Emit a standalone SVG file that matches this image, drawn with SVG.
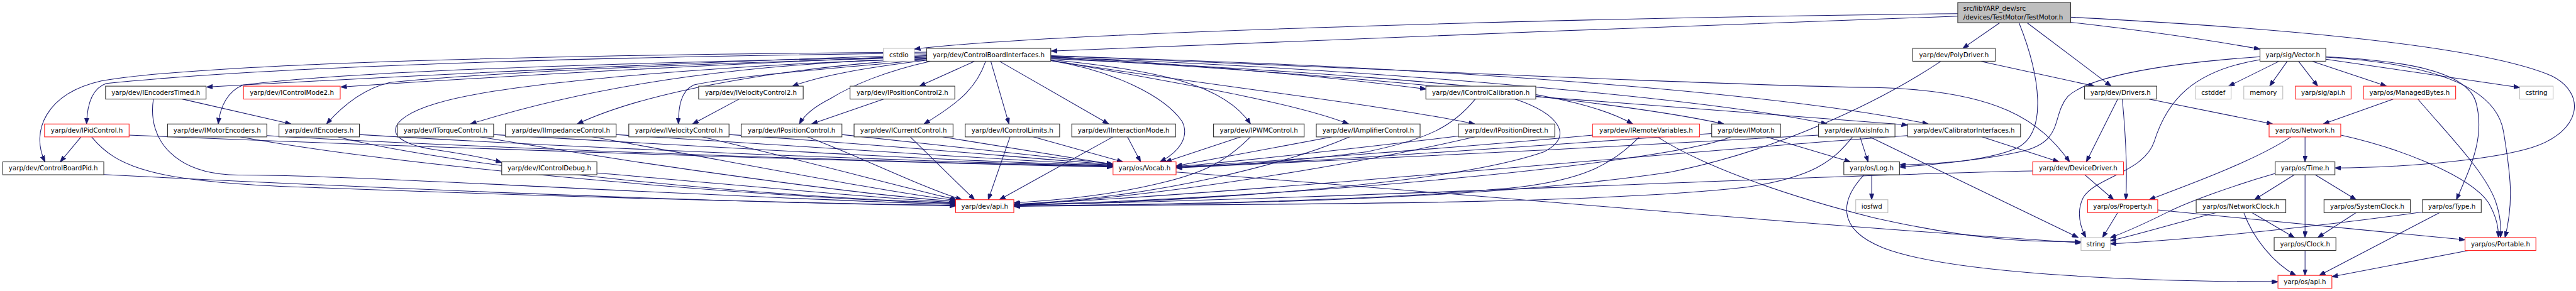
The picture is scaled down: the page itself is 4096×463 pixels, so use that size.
<svg xmlns="http://www.w3.org/2000/svg" width="4096" height="463" viewBox="0 0 4096 463">
<style>
.e path{fill:none;stroke:#191970;stroke-width:1.3;marker-end:url(#a)}
.n rect{fill:#fff;stroke:#333;stroke-width:1.4}
.n.r rect{stroke:#f22}
.n.g rect{stroke:#bfbfbf}
.n text{font-family:"DejaVu Sans",sans-serif;font-size:12.8px;fill:#000;text-anchor:middle}
</style>
<defs>
<marker id="a" viewBox="0 0 12 9" refX="12" refY="4.5" markerWidth="12" markerHeight="9" orient="auto" markerUnits="userSpaceOnUse"><path d="M0,0 L12,4.5 L0,9 z" fill="#191970" stroke="#191970" stroke-width="1"/></marker>
</defs>
<rect width="4096" height="463" fill="#fff"/>
<g transform="scale(0.805)">
<g id="connectors" class="e">
<path d="M3867,27 C3200,34 2100,62 1806,97"/>
<path d="M3867,32 C3300,50 2600,82 2076,101"/>
<path d="M3950,45 L3877,95.5"/>
<path d="M3988,45 C4030,150 4045,262 3985,292 C3930,318 3810,326 3752,330"/>
<path d="M4004,45 L4170,170.3"/>
<path d="M4090,44 C4250,62 4380,82 4464,97"/>
<path d="M4090,34 C4500,55 4900,90 5040,150 C5110,185 5100,260 5000,292 C4900,322 4700,332 4612,332"/>
<path d="M3912,121 L4137,170.3"/>
<path d="M3834,121 C3700,210 3500,300 3300,340 C2900,400 2300,405 2002,407"/>
<path d="M4183,196 L4121,319.9"/>
<path d="M4192,196 C4200,280 4202,340 4199,394.7"/>
<path d="M4245,196 L4489,245.1"/>
<path d="M4502,121 L4402,170.3"/>
<path d="M4518,121 L4483,170.3"/>
<path d="M4540,121 L4578,170.3"/>
<path d="M4567,121 L4714,170.3"/>
<path d="M4594,117 L4977,173"/>
<path d="M4594,112 C4750,120 4870,140 4890,200 C4910,270 4880,330 4852,394.7"/>
<path d="M4594,113 C4800,125 4930,170 4945,260 C4960,350 4965,400 4948,469.5"/>
<path d="M4464,112 C4350,120 4140,140 4085,190 C4050,230 4080,280 3990,300 C3900,320 3800,325 3752,326"/>
<path d="M4464,118 C4330,140 4280,200 4255,280 C4235,340 4140,350 4115,390 C4100,420 4110,450 4120,469.5"/>
<path d="M4727,196 L4589,245.1"/>
<path d="M4776,196 C4830,260 4910,340 4930,400 C4940,430 4940,450 4939,469.5"/>
<path d="M4553,270.6 L4553,319.9"/>
<path d="M4624,267 C4750,295 4880,350 4915,400 C4932,430 4935,450 4935,469.5"/>
<path d="M4525,270.6 C4450,320 4310,370 4245,394.7"/>
<path d="M4532,345.4 L4453,394.7"/>
<path d="M4553,345.4 L4553,469.5"/>
<path d="M4573,345.4 L4654,394.7"/>
<path d="M4494,343 C4400,370 4320,400 4280,420 C4230,445 4200,458 4168,470"/>
<path d="M4448,420.2 L4532,469.5"/>
<path d="M4432,420.2 C4450,470 4490,520 4535,544.3"/>
<path d="M4378,420.2 C4300,440 4230,462 4168,476"/>
<path d="M4654,420.2 L4578,469.5"/>
<path d="M4819,420.2 L4581,544.3"/>
<path d="M4785,419 C4600,445 4350,472 4168,482"/>
<path d="M4553,495 L4553,544.3"/>
<path d="M4876,495 L4606,547"/>
<path d="M4183,420.2 L4153,469.5"/>
<path d="M4262,415 L4869,474"/>
<path d="M3697,345.4 L3697,394.7"/>
<path d="M3682,345.4 C3640,390 3620,450 3720,490 C3850,540 4200,556 4499.5,557"/>
<path d="M4118,345.4 L4175,394.7"/>
<path d="M4015,338 C3600,345 2600,395 2002.5,405"/>
<path d="M3915,270.6 L4067,319.9"/>
<path d="M3768,268 C3300,300 2500,380 2002.5,404"/>
<path d="M3674,270.6 L3690,319.9"/>
<path d="M3693,270.6 L4105,469.5"/>
<path d="M3659,270.6 C3620,320 3580,350 3450,370 C3100,410 2300,402 2002.5,408"/>
<path d="M3592,267 C3200,290 2600,320 2323,332"/>
<path d="M3489,270.6 L3655,319.9"/>
<path d="M3419,270.6 C3300,320 2600,390 2002.5,405"/>
<path d="M3381,264 C3000,290 2600,320 2323,330"/>
<path d="M3146,267 C2900,290 2500,320 2323,330"/>
<path d="M3238,270.6 C3180,330 3120,355 3000,370 C2700,400 2200,405 2002.5,407"/>
<path d="M3274,270.6 C3350,320 3500,380 3700,430 C3900,475 4000,478 4110.5,478"/>
<path d="M2323,340 C2800,375 3500,440 4110.5,480"/>
<path d="M2881,269 C2700,290 2450,320 2323,329"/>
<path d="M2913,270.6 C2700,320 2300,390 2002.5,405"/>
<path d="M2631,270.6 C2500,295 2380,318 2323,328"/>
<path d="M2666,270.6 C2550,320 2300,390 2002.5,404"/>
<path d="M2914,195.8 C2870,250 2820,275 2700,300 C2550,320 2400,328 2323,331"/>
<path d="M2992,195.8 C3080,225 3110,270 3050,300 C2850,370 2300,400 2002.5,406"/>
<path d="M3033,191 C3300,210 3600,235 3768,247"/>
<path d="M2451,270.6 L2302,319.9"/>
<path d="M2470,270.6 C2420,320 2380,340 2300,360 C2200,385 2100,395 2002.5,401"/>
<path d="M2227,270.6 L2253,319.9"/>
<path d="M2198,270.6 L1974,394.7"/>
<path d="M2041,270.6 L2218,319.9"/>
<path d="M1995,270.6 L1952,394.7"/>
<path d="M1862,270.6 L2198.5,325"/>
<path d="M1798,270.6 L1925,394.7"/>
<path d="M1925,121 L1816,170.3"/>
<path d="M1947,121 C1930,170 1900,200 1825,245.1"/>
<path d="M1957,121 L1993,245.1"/>
<path d="M1974,121 L2190,245.1"/>
<path d="M2076,120 C2200,140 2300,190 2335,240 C2350,270 2330,300 2291,319.9"/>
<path d="M2076,118 C2300,140 2420,170 2470,245.1"/>
<path d="M2076,119 C2300,160 2550,200 2664,245.1"/>
<path d="M2076,112 C2400,130 2650,155 2817,176"/>
<path d="M2076,120 C2400,170 2750,210 2913,245.1"/>
<path d="M2076,116 C2600,140 2950,170 3050,190 C3130,205 3190,225 3225,245.1"/>
<path d="M2076,114 C2700,150 3200,200 3405,245.1"/>
<path d="M2076,113 C2800,140 3400,200 3609,245.1"/>
<path d="M2076,111 C2800,130 3500,180 3809,245.1"/>
<path d="M2076,110 C2800,140 3400,168 3700,173 C3950,178 4030,240 4088,319.9"/>
<path d="M1831,103 C1100,108 400,125 200,160 C90,185 60,260 89,319.9"/>
<path d="M1831,105 C1200,112 550,130 210,165 C180,175 172,210 171,245.1"/>
<path d="M1831,108 C1300,125 800,150 408,172"/>
<path d="M1831,110 C1400,128 1000,150 673,172"/>
<path d="M1831,112 C1200,125 700,140 480,168 C450,180 435,210 431,245.1"/>
<path d="M1831,113 C1400,125 1000,140 770,163 C720,175 680,205 645,245.1"/>
<path d="M1831,115 C1500,125 1200,160 929,245.1"/>
<path d="M1831,116 C1600,130 1300,170 1140,245.1"/>
<path d="M1831,118 C1650,135 1450,150 1370,168 C1345,180 1340,210 1340,245.1"/>
<path d="M1831,119 C1700,135 1620,150 1565,170.3"/>
<path d="M1838,121 C1750,140 1680,170 1640,195 C1610,210 1590,225 1579,245.1"/>
<path d="M1831,116 C1500,125 1000,160 860,205 C760,235 750,280 860,296 C920,305 960,312 991,321"/>
<path d="M1460,195.8 L1368,245.1"/>
<path d="M1746,195.8 L1603,245.1"/>
<path d="M360,195.8 L575,245.1"/>
<path d="M303,195.8 C290,280 350,345 470,346 C700,345 1400,390 1887.5,404"/>
<path d="M160,270.6 L119,319.9"/>
<path d="M255,267 C800,290 1700,320 2198.5,330"/>
<path d="M181,270.6 C230,330 300,360 600,370 C1000,385 1500,400 1887.5,406"/>
<path d="M205,345 C700,370 1400,400 1887.5,407"/>
<path d="M1179,342 C1400,360 1700,390 1887.5,400"/>
<path d="M527,268 C900,290 1700,320 2198.5,329"/>
<path d="M474,270.6 C800,330 1500,390 1887.5,402"/>
<path d="M710,266 C1100,290 1800,320 2198.5,328"/>
<path d="M667,270.6 C900,330 1500,390 1887.5,401"/>
<path d="M975,266 C1400,290 1900,320 2198.5,327"/>
<path d="M948,270.6 C1300,330 1700,385 1887.5,398"/>
<path d="M1217,266 C1600,290 2000,318 2198.5,326"/>
<path d="M1170,270.6 C1450,320 1750,380 1887.5,396"/>
<path d="M1440,266 C1800,290 2050,315 2198.5,325"/>
<path d="M1387,270.6 C1600,320 1800,375 1890,394.7"/>
<path d="M1663,266 C1900,290 2100,315 2198.5,324"/>
<path d="M1595,270.6 C1700,310 1820,370 1900,394.7"/>
</g>
<g id="n_testmotor" class="n"><rect x="3867" y="5" width="223" height="40" style="fill:#bfbfbf"/><text x="3878" y="21.5" style="text-anchor:start">src/libYARP_dev/src</text><text x="3878" y="38" style="text-anchor:start">/devices/TestMotor/TestMotor.h</text></g>
<g id="n_cstdio" class="n g"><rect x="1745" y="95.5" width="61" height="25.5"/><text x="1775.5" y="112.8">cstdio</text></g>
<g id="n_cbi" class="n"><rect x="1830.5" y="95.5" width="245" height="25.5"/><text x="1953" y="112.8">yarp/dev/ControlBoardInterfaces.h</text></g>
<g id="n_polydriver" class="n"><rect x="3778" y="95.5" width="163" height="25.5"/><text x="3859.5" y="112.8">yarp/dev/PolyDriver.h</text></g>
<g id="n_vector" class="n"><rect x="4464" y="95.5" width="130" height="25.5"/><text x="4529" y="112.8">yarp/sig/Vector.h</text></g>
<g id="n_enctimed" class="n"><rect x="208.5" y="170.3" width="198.5" height="25.5"/><text x="307.75" y="187.6">yarp/dev/IEncodersTimed.h</text></g>
<g id="n_cmode2" class="n r"><rect x="481" y="170.3" width="191" height="25.5"/><text x="576.5" y="187.6">yarp/dev/IControlMode2.h</text></g>
<g id="n_velctrl2" class="n"><rect x="1380" y="170.3" width="206.5" height="25.5"/><text x="1483.25" y="187.6">yarp/dev/IVelocityControl2.h</text></g>
<g id="n_posctrl2" class="n"><rect x="1679" y="170.3" width="207" height="25.5"/><text x="1782.5" y="187.6">yarp/dev/IPositionControl2.h</text></g>
<g id="n_ctrlcal" class="n"><rect x="2816.5" y="170.3" width="217" height="25.5"/><text x="2925" y="187.6">yarp/dev/IControlCalibration.h</text></g>
<g id="n_drivers" class="n"><rect x="4117.5" y="170.3" width="142.5" height="25.5"/><text x="4188.75" y="187.6">yarp/dev/Drivers.h</text></g>
<g id="n_cstddef" class="n g"><rect x="4336.5" y="170.3" width="70.5" height="25.5"/><text x="4371.75" y="187.6">cstddef</text></g>
<g id="n_memory" class="n g"><rect x="4432" y="170.3" width="77" height="25.5"/><text x="4470.5" y="187.6">memory</text></g>
<g id="n_sigapi" class="n r"><rect x="4534" y="170.3" width="110" height="25.5"/><text x="4589" y="187.6">yarp/sig/api.h</text></g>
<g id="n_managedbytes" class="n r"><rect x="4668.5" y="170.3" width="182" height="25.5"/><text x="4759.5" y="187.6">yarp/os/ManagedBytes.h</text></g>
<g id="n_cstring" class="n g"><rect x="4977" y="170.3" width="66" height="25.5"/><text x="5010" y="187.6">cstring</text></g>
<g id="n_pid" class="n r"><rect x="88" y="245.1" width="167" height="25.5"/><text x="171.5" y="262.4">yarp/dev/IPidControl.h</text></g>
<g id="n_motorenc" class="n"><rect x="331" y="245.1" width="196" height="25.5"/><text x="429" y="262.4">yarp/dev/IMotorEncoders.h</text></g>
<g id="n_enc" class="n"><rect x="551" y="245.1" width="159" height="25.5"/><text x="630.5" y="262.4">yarp/dev/IEncoders.h</text></g>
<g id="n_torque" class="n"><rect x="785" y="245.1" width="190" height="25.5"/><text x="880" y="262.4">yarp/dev/ITorqueControl.h</text></g>
<g id="n_imped" class="n"><rect x="998.5" y="245.1" width="218.5" height="25.5"/><text x="1107.75" y="262.4">yarp/dev/IImpedanceControl.h</text></g>
<g id="n_vel" class="n"><rect x="1242" y="245.1" width="198" height="25.5"/><text x="1341" y="262.4">yarp/dev/IVelocityControl.h</text></g>
<g id="n_pos" class="n"><rect x="1464" y="245.1" width="199" height="25.5"/><text x="1563.5" y="262.4">yarp/dev/IPositionControl.h</text></g>
<g id="n_current" class="n"><rect x="1687" y="245.1" width="195.5" height="25.5"/><text x="1784.75" y="262.4">yarp/dev/ICurrentControl.h</text></g>
<g id="n_limits" class="n"><rect x="1906.5" y="245.1" width="186.5" height="25.5"/><text x="1999.75" y="262.4">yarp/dev/IControlLimits.h</text></g>
<g id="n_interaction" class="n"><rect x="2117" y="245.1" width="205" height="25.5"/><text x="2219.5" y="262.4">yarp/dev/IInteractionMode.h</text></g>
<g id="n_pwm" class="n"><rect x="2397" y="245.1" width="179" height="25.5"/><text x="2486.5" y="262.4">yarp/dev/IPWMControl.h</text></g>
<g id="n_amp" class="n"><rect x="2600" y="245.1" width="205" height="25.5"/><text x="2702.5" y="262.4">yarp/dev/IAmplifierControl.h</text></g>
<g id="n_posdirect" class="n"><rect x="2880.5" y="245.1" width="190.5" height="25.5"/><text x="2975.75" y="262.4">yarp/dev/IPositionDirect.h</text></g>
<g id="n_remotevar" class="n r"><rect x="3146" y="245.1" width="211" height="25.5"/><text x="3251.5" y="262.4">yarp/dev/IRemoteVariables.h</text></g>
<g id="n_motor" class="n"><rect x="3381" y="245.1" width="136" height="25.5"/><text x="3449" y="262.4">yarp/dev/IMotor.h</text></g>
<g id="n_axisinfo" class="n"><rect x="3592" y="245.1" width="151" height="25.5"/><text x="3667.5" y="262.4">yarp/dev/IAxisInfo.h</text></g>
<g id="n_calib" class="n"><rect x="3768" y="245.1" width="223" height="25.5"/><text x="3879.5" y="262.4">yarp/dev/CalibratorInterfaces.h</text></g>
<g id="n_network" class="n r"><rect x="4482" y="245.1" width="141.5" height="25.5"/><text x="4552.75" y="262.4">yarp/os/Network.h</text></g>
<g id="n_cbpid" class="n"><rect x="5.5" y="319.9" width="199.5" height="25.5"/><text x="105.25" y="337.2">yarp/dev/ControlBoardPid.h</text></g>
<g id="n_debug" class="n"><rect x="991" y="319.9" width="188" height="25.5"/><text x="1085" y="337.2">yarp/dev/IControlDebug.h</text></g>
<g id="n_vocab" class="n r"><rect x="2198.5" y="319.9" width="124.5" height="25.5"/><text x="2260.75" y="337.2">yarp/os/Vocab.h</text></g>
<g id="n_log" class="n"><rect x="3642" y="319.9" width="110" height="25.5"/><text x="3697" y="337.2">yarp/os/Log.h</text></g>
<g id="n_devdriver" class="n r"><rect x="4015" y="319.9" width="179.5" height="25.5"/><text x="4104.75" y="337.2">yarp/dev/DeviceDriver.h</text></g>
<g id="n_time" class="n"><rect x="4494" y="319.9" width="118" height="25.5"/><text x="4553" y="337.2">yarp/os/Time.h</text></g>
<g id="n_devapi" class="n r"><rect x="1887.5" y="394.7" width="115" height="25.5"/><text x="1945" y="412">yarp/dev/api.h</text></g>
<g id="n_iosfwd" class="n g"><rect x="3665.5" y="394.7" width="63.5" height="25.5"/><text x="3697.25" y="412">iosfwd</text></g>
<g id="n_property" class="n r"><rect x="4123.5" y="394.7" width="138.5" height="25.5"/><text x="4192.75" y="412">yarp/os/Property.h</text></g>
<g id="n_netclock" class="n"><rect x="4338" y="394.7" width="177" height="25.5"/><text x="4426.5" y="412">yarp/os/NetworkClock.h</text></g>
<g id="n_sysclock" class="n"><rect x="4590.5" y="394.7" width="170.5" height="25.5"/><text x="4675.75" y="412">yarp/os/SystemClock.h</text></g>
<g id="n_type" class="n"><rect x="4785" y="394.7" width="116" height="25.5"/><text x="4843" y="412">yarp/os/Type.h</text></g>
<g id="n_string" class="n g"><rect x="4110.5" y="469.5" width="58" height="25.5"/><text x="4139.5" y="486.8">string</text></g>
<g id="n_clock" class="n"><rect x="4492" y="469.5" width="122" height="25.5"/><text x="4553" y="486.8">yarp/os/Clock.h</text></g>
<g id="n_portable" class="n r"><rect x="4869" y="469.5" width="140" height="25.5"/><text x="4939" y="486.8">yarp/os/Portable.h</text></g>
<g id="n_osapi" class="n r"><rect x="4499.5" y="544.3" width="106.5" height="25.5"/><text x="4552.75" y="561.6">yarp/os/api.h</text></g>
</g>
</svg>
